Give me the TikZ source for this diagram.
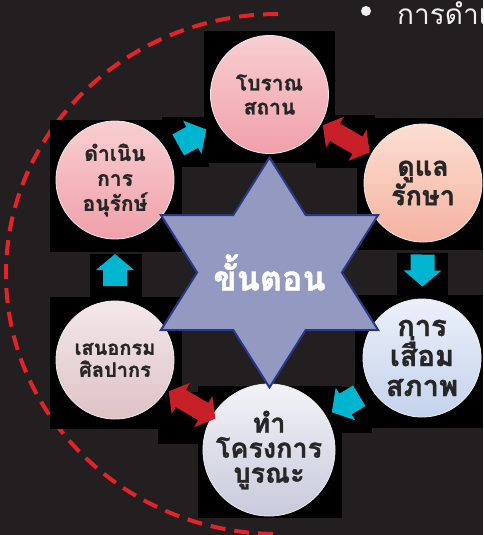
\documentclass[tikz,border=0pt]{standalone}
\usepackage{fontspec}
\newfontfamily\thaifont[Script=Thai, BoldFeatures={FakeBold=1.2}]{Loma}
\usetikzlibrary{calc}

\definecolor{slate}{RGB}{35,31,32}
\definecolor{ringred}{RGB}{226,36,42}
\definecolor{arrowcyan}{RGB}{0,181,207}
\definecolor{arrowred}{RGB}{200,32,40}
\definecolor{starfill}{RGB}{147,153,192}
\definecolor{stardraw}{RGB}{40,56,135}
\definecolor{pinktop}{RGB}{248,206,209}
\definecolor{pinkbot}{RGB}{240,160,170}
\definecolor{peachtop}{RGB}{252,222,210}
\definecolor{peachbot}{RGB}{245,178,160}
\definecolor{bluetop}{RGB}{236,240,250}
\definecolor{bluebot}{RGB}{196,210,236}
\definecolor{greytop}{RGB}{242,242,247}
\definecolor{greybot}{RGB}{200,202,220}
\definecolor{rosetop}{RGB}{244,232,234}
\definecolor{rosebot}{RGB}{222,194,198}

\tikzset{
  stage/.style 2 args={circle, minimum size=118pt, inner sep=0pt, align=center,
    draw=white!85!gray, line width=0.8pt, text=black!85,
    font=\thaifont\bfseries\fontsize{#1}{#2}\selectfont},
  imgbox/.style={fill=black},
  flowcyan/.style={fill=arrowcyan},
  flowred/.style={fill=arrowred},
}

\newcommand{\flowarrow}[4][]{%
  \fill[#4] let \p1=(#2), \p2=(#3), \n1={atan2(\y2-\y1,\x2-\x1)} in
    [#1, shift={($(#2)!0.5!(#3)$)}, rotate=\n1]
    (-16,-12) -- (0,-12) -- (0,-19) -- (16,0) -- (0,19) -- (0,12) -- (-16,12) -- cycle;}
\newcommand{\swaparrow}[4][]{%
  \fill[#4] let \p1=(#2), \p2=(#3), \n1={atan2(\y2-\y1,\x2-\x1)} in
    [#1, shift={($(#2)!0.5!(#3)$)}, rotate=\n1]
    (-27,0) -- (-13,-18) -- (-13,-10) -- (13,-10) -- (13,-18) -- (27,0)
    -- (13,18) -- (13,10) -- (-13,10) -- (-13,18) -- cycle;}

\begin{document}
\begin{tikzpicture}[x=1pt, y=-1pt]
  \useasboundingbox (0,0) rectangle (483,535);
  \fill[slate] (0,0) rectangle (483,535);

  \draw[ringred, line width=4pt, dash pattern=on 15pt off 9pt] (278,14) arc[start angle=270, end angle=90, x radius=272, y radius=260];

  \fill[imgbox] (162,117) rectangle (209,167);
  \fill[imgbox] (316,115) rectangle (375,168);
  \fill[imgbox] (397,253) rectangle (448,295);
  \fill[imgbox] (330,387) rectangle (372,433);
  \fill[imgbox] (158,392) rectangle (217,444);
  \fill[imgbox] (90,254) rectangle (142,297);

  \fill[imgbox] (204,31) rectangle (335,163);
  \fill[imgbox] (50,120) rectangle (182,252);
  \fill[imgbox] (357,118) rectangle (483,250);
  \fill[imgbox] (355,295) rectangle (483,428);
  \fill[imgbox] (198,386) rectangle (342,518);
  \fill[imgbox] (50,297) rectangle (182,429);

  \node[stage={21}{24}, top color=pinktop, bottom color=pinkbot] (ruins) at (269.5,94.5) {โบราณ\\สถาน};
  \node[stage={21}{25}, top color=pinktop, bottom color=pinkbot] (conserve) at (115,180) {ดำเนิน\\การ\\อนุรักษ์};
  \node[stage={27}{28}, top color=peachtop, bottom color=peachbot] (maintain) at (423,183) {ดูแล\\รักษา};
  \node[stage={29}{30}, top color=bluetop, bottom color=bluebot] (decay) at (422,358) {การ\\เสื่อม\\สภาพ};
  \node[stage={27}{25}, top color=greytop, bottom color=greybot] (restore) at (269,450) {ทำ\\โครงการ\\บูรณะ};
  \node[stage={20}{22}, top color=rosetop, bottom color=rosebot] (propose) at (115,360) {เสนอกรม\\ศิลปากร};

  \flowarrow{propose}{conserve}{flowcyan}
  \flowarrow{conserve}{ruins}{flowcyan}
  \swaparrow{ruins}{maintain}{flowred}
  \flowarrow{maintain}{decay}{flowcyan}
  \flowarrow{decay}{restore}{flowcyan}
  \swaparrow[yshift=-11pt]{propose}{restore}{flowred}

  \draw[fill=starfill, draw=stardraw, line width=2pt, line join=miter]
    (269.5,157.5) -- (305.7,215) -- (378.1,215) -- (341.9,272.5) -- (378.1,330) -- (305.7,330)
    -- (269.5,387.5) -- (233.3,330) -- (160.9,330) -- (197.1,272.5) -- (160.9,215) -- (233.3,215) -- cycle;
  \node[text=white, font=\thaifont\bfseries\fontsize{34}{36}\selectfont] (steps) at (269.5,272.5) {ขั้นตอน};

  \node[circle, fill=white!94!black, minimum size=10pt, inner sep=0pt] (bullet) at (366,11) {};
  \node[anchor=base west, inner sep=0pt, text=white!94!black, font=\thaifont\fontsize{28}{30}\selectfont] (heading) at (397,25) {การดำเนิน};
\end{tikzpicture}
\end{document}
